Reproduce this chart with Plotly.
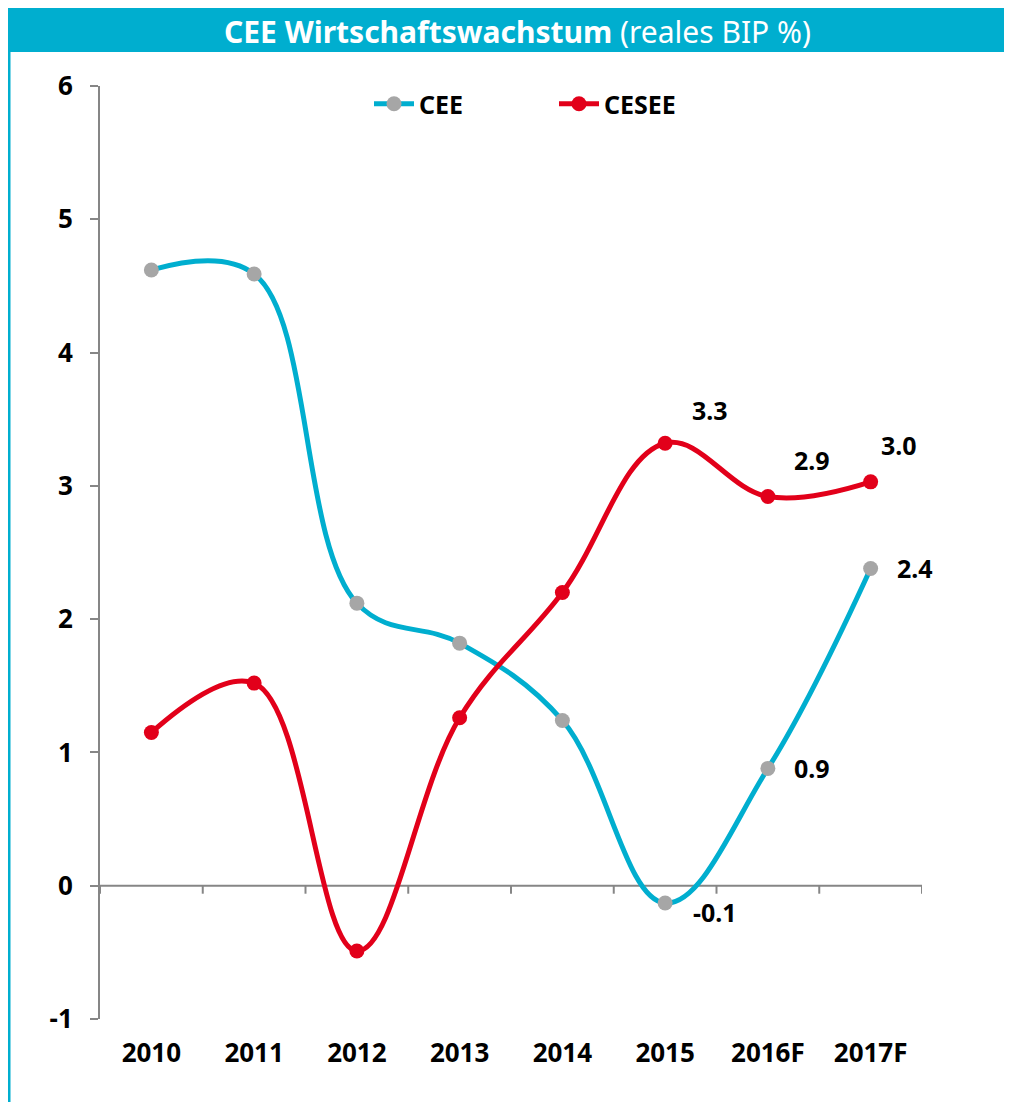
import plotly.graph_objects as go

teal = '#00AECF'
red = '#E2001A'
grey_marker = '#A6A6A6'
axis_color = '#868686'
font_family = 'Noto Sans'

years = ['2010', '2011', '2012', '2013', '2014', '2015', '2016F', '2017F']
cee = [4.62, 4.59, 2.12, 1.82, 1.24, -0.13, 0.88, 2.38]
cesee = [1.15, 1.52, -0.49, 1.26, 2.20, 3.32, 2.92, 3.03]

# which points get a value label, with pixel offsets (dx, dy)
cee_labels = {'2015': (50, -9), '2016F': (44, 0), '2017F': (44, 0)}
cesee_labels = {'2015': (45, 33), '2016F': (44, 37), '2017F': (28, 37)}

y_ticks = [-1, 0, 1, 2, 3, 4, 5, 6]

# page has an 8px body margin, so the figure starts at (8, 8)
OFF = 8
W, H = 1012 - OFF, 1102 - OFF
ml, mr, mt, mb = 100 - OFF, 90, 86 - OFF, 83
pw = W - ml - mr
ph = H - mt - mb


def px_x(px):
    return (px - OFF - ml) / pw


def px_y(py):
    return (H - mb - (py - OFF)) / ph


fig = go.Figure()

fig.add_trace(go.Scatter(
    x=years, y=cee, name='CEE', mode='lines+markers',
    line=dict(color=teal, width=5, shape='spline', smoothing=1.1),
    marker=dict(color=grey_marker, size=15),
    hoverinfo='x+y'
))

fig.add_trace(go.Scatter(
    x=years, y=cesee, name='CESEE', mode='lines+markers',
    line=dict(color=red, width=5, shape='spline', smoothing=1.1),
    marker=dict(color=red, size=15),
    hoverinfo='x+y'
))

# value labels
for series, labels in ((cee, cee_labels), (cesee, cesee_labels)):
    for i, yr in enumerate(years):
        if yr in labels:
            dx, dy = labels[yr]
            fig.add_annotation(
                x=i, y=series[i], text=f'{series[i]:.1f}', showarrow=False,
                xshift=dx, yshift=dy,
                font=dict(size=25, color='black', family=font_family, weight='bold')
            )

# zero line with tick marks between categories
fig.add_shape(type='line', xref='paper', yref='y', x0=0, x1=1, y0=0, y1=0,
              line=dict(color=axis_color, width=2), layer='below')
for k in range(len(years) + 1):
    fig.add_shape(type='line', xref='x', yref='y', x0=k - 0.5, x1=k - 0.5,
                  y0=0, y1=-0.06, line=dict(color=axis_color, width=2), layer='below')

# title bar
fig.add_shape(type='rect', xref='paper', yref='paper',
              x0=px_x(8), x1=px_x(1012), y0=px_y(52), y1=px_y(8),
              fillcolor=teal, line=dict(width=0))
fig.add_shape(type='line', xref='paper', yref='paper',
              x0=px_x(9), x1=px_x(9), y0=px_y(52), y1=px_y(1102),
              line=dict(color=teal, width=3))
fig.add_annotation(
    xref='paper', yref='paper', x=px_x(517), y=px_y(31),
    text='<b>CEE Wirtschaftswachstum</b> (reales BIP %)', showarrow=False,
    font=dict(size=30, color='white', family=font_family),
    xanchor='center', yanchor='middle'
)

fig.update_xaxes(
    type='category', range=[-0.5, len(years) - 0.5],
    showgrid=False, zeroline=False, showline=False, ticks='',
    tickfont=dict(size=26, color='black', family=font_family, weight='bold'),
    ticklabelstandoff=16
)
fig.update_yaxes(
    range=[-1, 6], tickvals=y_ticks, ticktext=[str(v) for v in y_ticks],
    showgrid=False, zeroline=False,
    showline=True, linecolor=axis_color, linewidth=2,
    ticks='outside', ticklen=8, tickcolor=axis_color, tickwidth=2,
    tickfont=dict(size=26, color='black', family=font_family, weight='bold'),
    ticklabelstandoff=12
)

fig.update_layout(
    width=W, height=H,
    margin=dict(l=ml, r=mr, t=mt, b=mb),
    paper_bgcolor='white', plot_bgcolor='white',
    font_family=font_family,
    legend=dict(
        orientation='h', x=px_x(369), y=px_y(104), xanchor='left', yanchor='middle',
        font=dict(size=25, color='black', family=font_family, weight='bold'),
        itemwidth=40, entrywidth=130, bgcolor='rgba(0,0,0,0)'
    )
)

fig.write_html('out.html')
